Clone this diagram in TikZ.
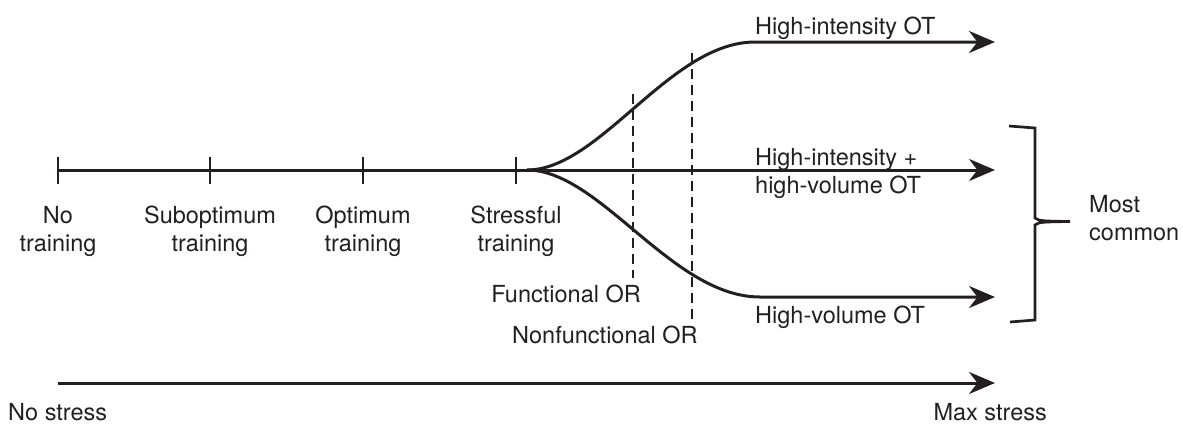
\documentclass[tikz,border=0pt]{standalone}
\usepackage{fontspec}
\setmainfont{TeX Gyre Heros}
\usetikzlibrary{arrows.meta}
\definecolor{ink}{HTML}{231F20}
\begin{document}
\begin{tikzpicture}[x=1pt,y=-1pt,
  lbl/.style={inner sep=0pt,font=\fontsize{23.5}{27.5}\selectfont,text=ink},
  thick line/.style={line width=3pt,ink},
  tickmark/.style={line width=2.9pt,ink},
  dashline/.style={line width=2.3pt,ink,dash pattern=on 10pt off 6pt},
  arr/.style={-{Stealth[length=26pt,width=22pt]}}]
\useasboundingbox (0,0) rectangle (1183,424);
% coordinates
\coordinate (t1) at (58,170);
\coordinate (t2) at (210,170);
\coordinate (t3) at (363,170);
\coordinate (t4) at (516,170);
\coordinate (br) at (527,170);
\coordinate (e1) at (995,42);
\coordinate (e2) at (995,170);
\coordinate (e3) at (995,297);
\coordinate (u1) at (755,42);
\coordinate (l1) at (760,297);
% main line
\draw[thick line] (t1) -- (t4);
\foreach \t in {t1,t2,t3,t4}
  \draw[tickmark] ([yshift=-13.5pt]\t) -- ([yshift=13.5pt]\t);
% branches
\draw[thick line,arr] (t4) -- (e2);
\draw[thick line,arr] (br) .. controls (600,170) and (670,42) .. (u1) -- (e1);
\draw[thick line,arr] (br) .. controls (600,170) and (672,297) .. (l1) -- (e3);
% dashed
\coordinate (d1a) at (633,94);
\coordinate (d1b) at (633,278);
\coordinate (d2a) at (692,53);
\coordinate (d2b) at (692,320);
\draw[dashline] (d1a) -- (d1b);
\draw[dashline] (d2a) -- (d2b);
% bracket
\coordinate (b1) at (1009,126);
\coordinate (b2) at (1035,128);
\coordinate (b3) at (1035,218);
\coordinate (bm) at (1070,221.5);
\coordinate (b4) at (1035,225);
\coordinate (b5) at (1035,320);
\coordinate (b6) at (1010,322);
\draw[line width=2.7pt,ink,line join=miter] (b1) -- (b2) -- (b3) .. controls (1040,221) .. (bm) .. controls (1040,222) .. (b4) -- (b5) -- (b6);
% stress axis
\coordinate (s1) at (58,383);
\coordinate (s2) at (995,383);
\draw[thick line,arr] (s1) -- (s2);
% labels (base anchor = baseline of last line)
\node[lbl,anchor=base,align=center] (n1) at (58,251) {No\\training};
\node[lbl,anchor=base,align=center] (n2) at (210,251) {Suboptimum\\training};
\node[lbl,anchor=base,align=center] (n3) at (363,251) {Optimum\\training};
\node[lbl,anchor=base,align=center] (n4) at (516,251) {Stressful\\training};
\node[lbl,anchor=base west] (o1) at (755,34) {High-intensity OT};
\node[lbl,anchor=base west,align=left] (o2) at (755,193) {High-intensity +\\high-volume OT};
\node[lbl,anchor=base west] (o3) at (755,323) {High-volume OT};
\node[lbl,anchor=base east] (f1) at (641,302) {Functional OR};
\node[lbl,anchor=base west] (f2) at (512,343) {Nonfunctional OR};
\node[lbl,anchor=base west,align=left] (mc) at (1089,240) {Most\\common};
\node[lbl,anchor=base west] (ns) at (8,420) {No stress};
\node[lbl,anchor=base east] (ms) at (1047,420) {Max stress};
\end{tikzpicture}
\end{document}
